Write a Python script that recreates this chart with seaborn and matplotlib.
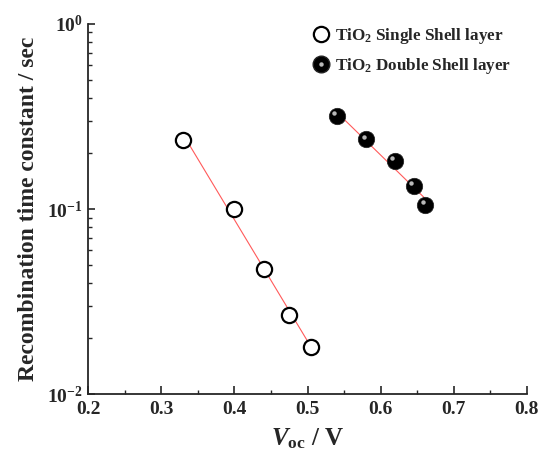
import numpy as np
import pandas as pd
import seaborn as sns
import matplotlib.pyplot as plt
from matplotlib.lines import Line2D
from matplotlib.ticker import MultipleLocator, LogLocator
from matplotlib.transforms import offset_copy

voc_single = [0.33, 0.40, 0.44, 0.475, 0.505]
tau_single = [0.236, 0.100, 0.0474, 0.0267, 0.0179]
voc_double = [0.540, 0.580, 0.619, 0.645, 0.661]
tau_double = [0.318, 0.238, 0.182, 0.133, 0.105]
x_ticks = [0.2, 0.3, 0.4, 0.5, 0.6, 0.7, 0.8]
y_ticks = [0.01, 0.1, 1]
y_labels = [r"$\mathbf{10^{-2}}$", r"$\mathbf{10^{-1}}$", r"$\mathbf{10^{0}}$"]

sns.set_style("ticks")
plt.rcParams["font.family"] = ["Liberation Serif", "DejaVu Serif"]
plt.rcParams["font.weight"] = "bold"
plt.rcParams["mathtext.fontset"] = "custom"
plt.rcParams["mathtext.rm"] = "Liberation Serif:bold"
plt.rcParams["mathtext.bf"] = "Liberation Serif:bold"
plt.rcParams["mathtext.it"] = "Liberation Serif:bold:italic"

single = pd.DataFrame({"voc": voc_single, "tau": tau_single})
double = pd.DataFrame({"voc": voc_double, "tau": tau_double})


def fit_line(df):
    k, b = np.polyfit(df["voc"], np.log10(df["tau"]), 1)
    xs = np.array([df["voc"].min(), df["voc"].max()])
    return pd.DataFrame({"voc": xs, "tau": 10 ** (k * xs + b)})


fig = plt.figure(figsize=(5.41, 4.61), dpi=100)
ax = fig.add_axes([0.163, 0.145, 0.811, 0.803])

sns.lineplot(data=fit_line(single), x="voc", y="tau", color="#ff5a5a", lw=0.8, ax=ax)
sns.lineplot(data=fit_line(double), x="voc", y="tau", color="#ff5a5a", lw=0.8, ax=ax)

sns.scatterplot(data=single, x="voc", y="tau", s=120, facecolor="white",
                edgecolor="black", linewidth=1.6, ax=ax, zorder=3)
sns.scatterplot(data=double, x="voc", y="tau", s=140, color="black",
                edgecolor="#222222", linewidth=0.5, ax=ax, zorder=3)
shine = offset_copy(ax.transData, fig=fig, x=-1.8, y=2.0, units="points")
ax.plot(double["voc"], double["tau"], "o", ms=3.2, color="#b8b8b8",
        mec="none", transform=shine, zorder=4)

ax.set_yscale("log")
ax.set_xlim(0.2, 0.8)
ax.set_ylim(0.01, 1)
ax.set_xticks(x_ticks)
ax.set_xticklabels([f"{v:.1f}" for v in x_ticks], fontweight="bold")
ax.xaxis.set_minor_locator(MultipleLocator(0.05))
ax.set_yticks(y_ticks)
ax.set_yticklabels(y_labels)
ax.yaxis.set_minor_locator(LogLocator(base=10, subs=np.arange(2, 10)))
ax.tick_params(which="major", direction="in", length=6, width=1.2, labelsize=14, pad=5)
ax.tick_params(which="minor", direction="in", length=3, width=1.0)
ax.tick_params(axis="y", which="major", length=5, pad=4)

sns.despine(ax=ax)
for sp in ("left", "bottom"):
    ax.spines[sp].set_linewidth(1.3)

ax.set_xlabel(r"$V_{\mathbf{oc}}$ / V", fontsize=18, fontweight="bold", labelpad=6)
ax.set_ylabel("Recombination time constant / sec", fontsize=17,
              fontweight="bold", labelpad=6)

h1 = Line2D([], [], ls="none", marker="o", ms=11, mfc="white", mec="black", mew=1.6)
h2 = (Line2D([], [], ls="none", marker="o", ms=12, mfc="black", mec="#222222"),
      Line2D([], [], ls="none", marker="o", ms=3.2, mfc="#b8b8b8", mec="none"))
ax.legend([h1, h2], ["TiO$_2$ Single Shell layer", "TiO$_2$ Double Shell layer"],
          loc="upper right", bbox_to_anchor=(1.0, 1.035), frameon=False,
          handlelength=1.5, handletextpad=0.1, labelspacing=0.55,
          prop={"weight": "bold", "size": 12.3})

fig.savefig("out.png", dpi=100)
